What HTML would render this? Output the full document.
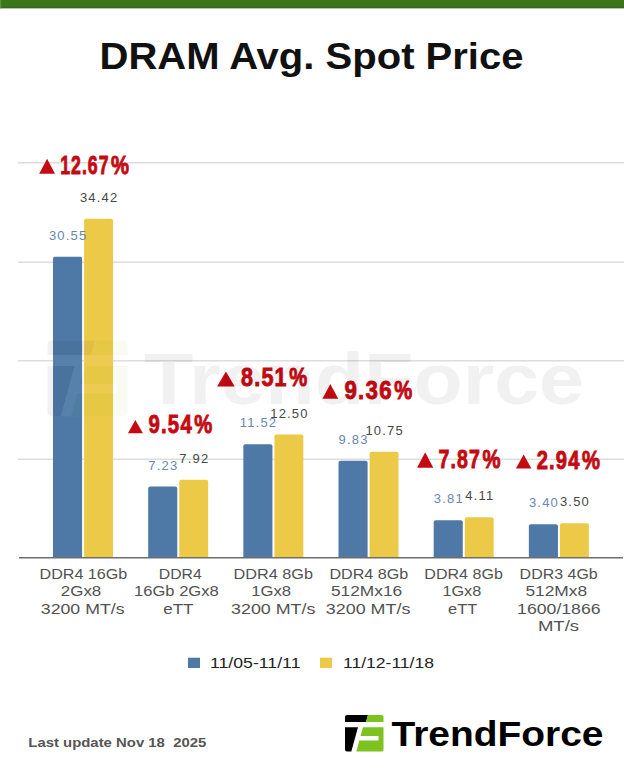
<!DOCTYPE html>
<html><head><meta charset="utf-8"><style>
html,body{margin:0;padding:0;background:#fff;width:624px;height:780px;overflow:hidden}
svg{display:block;font-family:"Liberation Sans",sans-serif}
</style></head><body>
<svg width="624" height="780" viewBox="0 0 624 780">
<rect x="0" y="0" width="624" height="8.3" fill="#3b761d"/>
<rect x="0" y="6.8" width="624" height="1.4" fill="#335f1c" opacity="0.6"/>
<rect x="0" y="0" width="1.2" height="8.3" fill="#66a040" opacity="0.7"/>
<text x="311.5" y="68.8" font-size="37.4" font-weight="bold" fill="#111" text-anchor="middle" textLength="424" lengthAdjust="spacingAndGlyphs">DRAM Avg. Spot Price</text>
<rect x="18" y="162.05" width="606" height="1.5" fill="#dcdcdc"/>
<rect x="18" y="261.45" width="606" height="1.5" fill="#dcdcdc"/>
<rect x="18" y="360.05" width="606" height="1.5" fill="#dcdcdc"/>
<rect x="18" y="458.55" width="606" height="1.5" fill="#dcdcdc"/>
<path d="M53.00 557.7 V258.78 Q53.00 256.78 55.00 256.78 H80.10 Q82.10 256.78 82.10 258.78 V557.7 Z" fill="#4e79a7"/>
<path d="M84.10 557.7 V220.66 Q84.10 218.66 86.10 218.66 H111.00 Q113.00 218.66 113.00 220.66 V557.7 Z" fill="#edc948"/>
<text x="83.40" y="578.90" font-size="14.3" fill="#525252" text-anchor="middle" textLength="87.80" lengthAdjust="spacingAndGlyphs">DDR4 16Gb</text>
<text x="81.05" y="596.27" font-size="14.3" fill="#525252" text-anchor="middle" textLength="40.50" lengthAdjust="spacingAndGlyphs">2Gx8</text>
<text x="82.65" y="613.64" font-size="14.3" fill="#525252" text-anchor="middle" textLength="83.70" lengthAdjust="spacingAndGlyphs">3200 MT/s</text>
<path d="M148.17 557.7 V488.48 Q148.17 486.48 150.17 486.48 H175.27 Q177.27 486.48 177.27 488.48 V557.7 Z" fill="#4e79a7"/>
<path d="M179.27 557.7 V481.69 Q179.27 479.69 181.27 479.69 H206.17 Q208.17 479.69 208.17 481.69 V557.7 Z" fill="#edc948"/>
<text x="180.30" y="578.90" font-size="14.3" fill="#525252" text-anchor="middle" textLength="43.00" lengthAdjust="spacingAndGlyphs">DDR4</text>
<text x="176.40" y="596.27" font-size="14.3" fill="#525252" text-anchor="middle" textLength="84.60" lengthAdjust="spacingAndGlyphs">16Gb 2Gx8</text>
<text x="178.35" y="613.64" font-size="14.3" fill="#525252" text-anchor="middle" textLength="30.30" lengthAdjust="spacingAndGlyphs">eTT</text>
<path d="M243.34 557.7 V446.23 Q243.34 444.23 245.34 444.23 H270.44 Q272.44 444.23 272.44 446.23 V557.7 Z" fill="#4e79a7"/>
<path d="M274.44 557.7 V436.58 Q274.44 434.58 276.44 434.58 H301.34 Q303.34 434.58 303.34 436.58 V557.7 Z" fill="#edc948"/>
<text x="273.25" y="578.90" font-size="14.3" fill="#525252" text-anchor="middle" textLength="79.50" lengthAdjust="spacingAndGlyphs">DDR4 8Gb</text>
<text x="271.15" y="596.27" font-size="14.3" fill="#525252" text-anchor="middle" textLength="39.90" lengthAdjust="spacingAndGlyphs">1Gx8</text>
<text x="273.25" y="613.64" font-size="14.3" fill="#525252" text-anchor="middle" textLength="84.30" lengthAdjust="spacingAndGlyphs">3200 MT/s</text>
<path d="M338.51 557.7 V462.87 Q338.51 460.87 340.51 460.87 H365.61 Q367.61 460.87 367.61 462.87 V557.7 Z" fill="#4e79a7"/>
<path d="M369.61 557.7 V453.81 Q369.61 451.81 371.61 451.81 H396.51 Q398.51 451.81 398.51 453.81 V557.7 Z" fill="#edc948"/>
<text x="368.85" y="578.90" font-size="14.3" fill="#525252" text-anchor="middle" textLength="78.90" lengthAdjust="spacingAndGlyphs">DDR4 8Gb</text>
<text x="366.60" y="596.27" font-size="14.3" fill="#525252" text-anchor="middle" textLength="71.20" lengthAdjust="spacingAndGlyphs">512Mx16</text>
<text x="368.10" y="613.64" font-size="14.3" fill="#525252" text-anchor="middle" textLength="84.60" lengthAdjust="spacingAndGlyphs">3200 MT/s</text>
<path d="M433.68 557.7 V522.17 Q433.68 520.17 435.68 520.17 H460.78 Q462.78 520.17 462.78 522.17 V557.7 Z" fill="#4e79a7"/>
<path d="M464.78 557.7 V519.22 Q464.78 517.22 466.78 517.22 H491.68 Q493.68 517.22 493.68 519.22 V557.7 Z" fill="#edc948"/>
<text x="463.60" y="578.90" font-size="14.3" fill="#525252" text-anchor="middle" textLength="78.60" lengthAdjust="spacingAndGlyphs">DDR4 8Gb</text>
<text x="461.85" y="596.27" font-size="14.3" fill="#525252" text-anchor="middle" textLength="38.90" lengthAdjust="spacingAndGlyphs">1Gx8</text>
<text x="462.70" y="613.64" font-size="14.3" fill="#525252" text-anchor="middle" textLength="29.20" lengthAdjust="spacingAndGlyphs">eTT</text>
<path d="M528.85 557.7 V526.21 Q528.85 524.21 530.85 524.21 H555.95 Q557.95 524.21 557.95 526.21 V557.7 Z" fill="#4e79a7"/>
<path d="M559.95 557.7 V525.23 Q559.95 523.23 561.95 523.23 H586.85 Q588.85 523.23 588.85 525.23 V557.7 Z" fill="#edc948"/>
<text x="558.65" y="578.90" font-size="14.3" fill="#525252" text-anchor="middle" textLength="78.10" lengthAdjust="spacingAndGlyphs">DDR3 4Gb</text>
<text x="556.25" y="596.27" font-size="14.3" fill="#525252" text-anchor="middle" textLength="61.70" lengthAdjust="spacingAndGlyphs">512Mx8</text>
<text x="558.85" y="613.64" font-size="14.3" fill="#525252" text-anchor="middle" textLength="83.50" lengthAdjust="spacingAndGlyphs">1600/1866</text>
<text x="558.50" y="631.01" font-size="14.3" fill="#525252" text-anchor="middle" textLength="41.20" lengthAdjust="spacingAndGlyphs">MT/s</text>
<rect x="19" y="557" width="604" height="1.5" fill="#6e6e6e"/>
<text x="68.15" y="239.98" font-size="13" fill="#6787b0" text-anchor="middle" letter-spacing="1.2">30.55</text>
<text x="99.15" y="201.86" font-size="13" fill="#474747" text-anchor="middle" letter-spacing="1.2">34.42</text>
<text x="163.32" y="469.68" font-size="13" fill="#6787b0" text-anchor="middle" letter-spacing="1.2">7.23</text>
<text x="194.32" y="462.89" font-size="13" fill="#474747" text-anchor="middle" letter-spacing="1.2">7.92</text>
<text x="258.49" y="427.43" font-size="13" fill="#6787b0" text-anchor="middle" letter-spacing="1.2">11.52</text>
<text x="289.49" y="417.78" font-size="13" fill="#474747" text-anchor="middle" letter-spacing="1.2">12.50</text>
<text x="353.66" y="444.07" font-size="13" fill="#6787b0" text-anchor="middle" letter-spacing="1.2">9.83</text>
<text x="384.66" y="435.01" font-size="13" fill="#474747" text-anchor="middle" letter-spacing="1.2">10.75</text>
<text x="448.83" y="503.37" font-size="13" fill="#6787b0" text-anchor="middle" letter-spacing="1.2">3.81</text>
<text x="479.83" y="500.42" font-size="13" fill="#474747" text-anchor="middle" letter-spacing="1.2">4.11</text>
<text x="544.00" y="507.41" font-size="13" fill="#6787b0" text-anchor="middle" letter-spacing="1.2">3.40</text>
<text x="575.00" y="506.43" font-size="13" fill="#474747" text-anchor="middle" letter-spacing="1.2">3.50</text>
<polygon points="39.2,173.7 47.10,158.7 55,173.7" fill="#c40a12"/>
<text x="60.20" y="173.70" font-size="26" font-weight="bold" fill="#c40a12" stroke="#c40a12" stroke-width="0.9" textLength="49.40" lengthAdjust="spacingAndGlyphs" letter-spacing="1.5">12.67</text>
<text x="111.00" y="173.70" font-size="26" font-weight="bold" fill="#c40a12" stroke="#c40a12" stroke-width="0.9" textLength="18.00" lengthAdjust="spacingAndGlyphs">%</text>
<polygon points="127.9,433.2 135.40,420 142.9,433.2" fill="#c40a12"/>
<text x="148.50" y="433.20" font-size="26" font-weight="bold" fill="#c40a12" stroke="#c40a12" stroke-width="0.9" textLength="44.40" lengthAdjust="spacingAndGlyphs" letter-spacing="1.5">9.54</text>
<text x="194.30" y="433.20" font-size="26" font-weight="bold" fill="#c40a12" stroke="#c40a12" stroke-width="0.9" textLength="18.00" lengthAdjust="spacingAndGlyphs">%</text>
<polygon points="217.1,386.4 225.90,371.5 234.7,386.4" fill="#c40a12"/>
<text x="241.10" y="386.40" font-size="26" font-weight="bold" fill="#c40a12" stroke="#c40a12" stroke-width="0.9" textLength="46.70" lengthAdjust="spacingAndGlyphs" letter-spacing="1.5">8.51</text>
<text x="289.20" y="386.40" font-size="26" font-weight="bold" fill="#c40a12" stroke="#c40a12" stroke-width="0.9" textLength="18.00" lengthAdjust="spacingAndGlyphs">%</text>
<polygon points="322.4,398.7 330.35,384.1 338.3,398.7" fill="#c40a12"/>
<text x="344.40" y="398.70" font-size="26" font-weight="bold" fill="#c40a12" stroke="#c40a12" stroke-width="0.9" textLength="48.40" lengthAdjust="spacingAndGlyphs" letter-spacing="1.5">9.36</text>
<text x="394.20" y="398.70" font-size="26" font-weight="bold" fill="#c40a12" stroke="#c40a12" stroke-width="0.9" textLength="18.00" lengthAdjust="spacingAndGlyphs">%</text>
<polygon points="417.1,467.7 425.20,452.3 433.3,467.7" fill="#c40a12"/>
<text x="438.50" y="467.70" font-size="26" font-weight="bold" fill="#c40a12" stroke="#c40a12" stroke-width="0.9" textLength="42.60" lengthAdjust="spacingAndGlyphs" letter-spacing="1.5">7.87</text>
<text x="482.50" y="467.70" font-size="26" font-weight="bold" fill="#c40a12" stroke="#c40a12" stroke-width="0.9" textLength="18.00" lengthAdjust="spacingAndGlyphs">%</text>
<polygon points="515.9,468.6 523.65,454.5 531.4,468.6" fill="#c40a12"/>
<text x="536.70" y="468.60" font-size="26" font-weight="bold" fill="#c40a12" stroke="#c40a12" stroke-width="0.9" textLength="43.80" lengthAdjust="spacingAndGlyphs" letter-spacing="1.5">2.94</text>
<text x="581.90" y="468.60" font-size="26" font-weight="bold" fill="#c40a12" stroke="#c40a12" stroke-width="0.9" textLength="18.00" lengthAdjust="spacingAndGlyphs">%</text>
<rect x="188" y="657.7" width="12" height="10.3" fill="#4e79a7"/>
<text x="210" y="667.9" font-size="14" fill="#222" textLength="90.5" lengthAdjust="spacingAndGlyphs">11/05-11/11</text>
<rect x="320" y="657.7" width="12" height="10.3" fill="#edc948"/>
<text x="343" y="667.9" font-size="14" fill="#222" textLength="91" lengthAdjust="spacingAndGlyphs">11/12-11/18</text>
<text x="28.3" y="747" font-size="13.6" font-weight="bold" fill="#555" textLength="178" lengthAdjust="spacingAndGlyphs" xml:space="preserve">Last update Nov 18  2025</text>
<g transform="translate(345,715) scale(1)"><path d="M0 2 Q0 0 2 0 H23 L21 7 H0 Z" fill="#000"/><path d="M23 0 H36.5 Q38.5 0 38.5 2 V7 H21 Z" fill="#7dc21e"/><path d="M0 12.3 H13 L6.3 36.5 H2 Q0 36.5 0 34.5 Z" fill="#000"/><path d="M18 12.3 H38.5 V34.5 Q38.5 36.5 36.5 36.5 H11.3 L14.3 25.5 H33.5 V21 H15.5 Z" fill="#7dc21e"/><text x="46.5" y="30.8" font-size="35" font-weight="bold" fill="#000" textLength="212" lengthAdjust="spacingAndGlyphs">TrendForce</text></g>
<g transform="translate(47.6,340.4) scale(2.075)"><g opacity="0.052"><path d="M2 0 H36.5 Q38.5 0 38.5 2 V34.5 Q38.5 36.5 36.5 36.5 H2 Q0 36.5 0 34.5 V2 Q0 0 2 0 Z" fill="#fff"/><path d="M0 2 Q0 0 2 0 H23 L21 7 H0 Z" fill="#000"/><path d="M23 0 H36.5 Q38.5 0 38.5 2 V7 H21 Z" fill="#7dc21e"/><path d="M0 12.3 H13 L6.3 36.5 H2 Q0 36.5 0 34.5 Z" fill="#000"/><path d="M18 12.3 H38.5 V34.5 Q38.5 36.5 36.5 36.5 H11.3 L14.3 25.5 H33.5 V21 H15.5 Z" fill="#7dc21e"/></g><g opacity="0.05"><text x="46.5" y="30.8" font-size="35" font-weight="bold" fill="#000" textLength="212" lengthAdjust="spacingAndGlyphs">TrendForce</text></g></g>
</svg>
</body></html>
